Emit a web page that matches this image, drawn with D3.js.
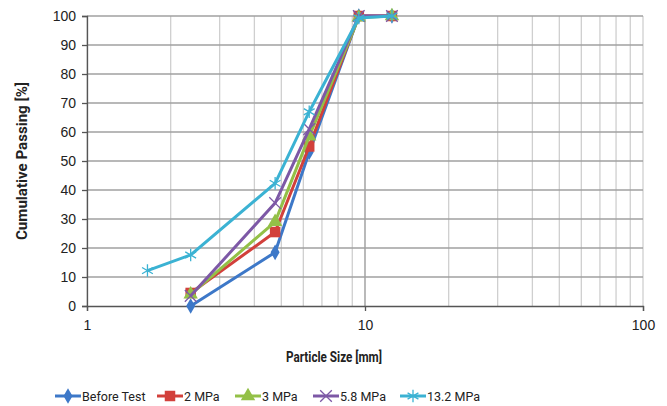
<!DOCTYPE html>
<html>
<head>
<meta charset="utf-8">
<script src="https://cdn.jsdelivr.net/npm/d3@7"></script>
<style>
  body { margin: 0; background: #fff; }
  svg { font-family: Roboto, "Noto Sans", sans-serif; }
</style>
</head>
<body>
<svg width="667" height="406"></svg>
<script>
// sieve sizes (mm) and passing percentages per test
var sizes = [2.36, 4.75, 6.3, 9.5, 12.5];
var sizes132 = [1.65, 2.36, 4.75, 6.3, 9.5, 12.5];
var beforeTest = [0, 18.5, 53, 100, 100];
var mpa2 = [4.5, 25.5, 55, 100, 100];
var mpa3 = [4, 29, 58.5, 99.5, 100];
var mpa58 = [3.5, 35.5, 61, 100, 100];
var mpa132 = [12.2, 17.6, 42.3, 67, 99.3, 100];
var yTicks = [0, 10, 20, 30, 40, 50, 60, 70, 80, 90, 100];
var xTicks = [1, 10, 100];

var series = [
  { name: "Before Test", x: sizes, y: beforeTest, color: "#3d78c8", sym: "diamond" },
  { name: "2 MPa", x: sizes, y: mpa2, color: "#d2403b", sym: "square" },
  { name: "3 MPa", x: sizes, y: mpa3, color: "#93c047", sym: "triangle" },
  { name: "5.8 MPa", x: sizes, y: mpa58, color: "#7d58a6", sym: "x" },
  { name: "13.2 MPa", x: sizes132, y: mpa132, color: "#3bb2d3", sym: "star" }
];

function main() {
    var svg = d3.select("svg");
    var left = 87, right = 643, top = 16, bottom = 306;

    var xScale = d3.scaleLog().domain([1, 100]).range([left, right]);
    var yScale = d3.scaleLinear().domain([0, 100]).range([bottom, top]);

    // minor vertical gridlines
    var minor = [];
    for (var d = 1; d < 100; d *= 10)
        for (var k = 1; k <= 10; k++) minor.push(d * k);
    svg.append("g").selectAll("line").data(minor).join("line")
        .attr("x1", d => xScale(d)).attr("x2", d => xScale(d))
        .attr("y1", top).attr("y2", bottom)
        .attr("stroke", d => (d == 10 ? "#b0b0b0" : "#cfcfcf"))
        .attr("stroke-width", 1.3);

    // horizontal gridlines
    svg.append("g").selectAll("line").data(yTicks.slice(1)).join("line")
        .attr("x1", left).attr("x2", right)
        .attr("y1", d => yScale(d)).attr("y2", d => yScale(d))
        .attr("stroke", "#a0a0a0")
        .attr("stroke-width", 1.3);

    // y axis
    var yAxis = svg.append("g")
        .attr("transform", "translate(" + left + ",0)")
        .call(d3.axisLeft(yScale).tickValues(yTicks).tickSize(5).tickPadding(6));
    // x axis
    var xAxis = svg.append("g")
        .attr("transform", "translate(0," + bottom + ")")
        .call(d3.axisBottom(xScale).tickValues(xTicks).tickFormat(d3.format("d")).tickSize(5).tickPadding(9));
    [yAxis, xAxis].forEach(function (a) {
        a.select(".domain").attr("stroke", "#555").attr("stroke-width", 1.3);
        a.selectAll(".tick line").attr("stroke", "#555").attr("stroke-width", 1.3);
        a.selectAll("text").attr("font-size", 14).attr("fill", "#222");
    });

    var line = d3.line()
        .x(d => xScale(d[0]))
        .y(d => yScale(d[1]));

    var symbols = {
        diamond: d3.symbol().type(d3.symbolDiamond).size(70),
        square: d3.symbol().type(d3.symbolSquare).size(110),
        triangle: d3.symbol().type(d3.symbolTriangle).size(90),
        x: d3.symbol().type(d3.symbolTimes).size(90),
        star: d3.symbol().type(d3.symbolAsterisk).size(110)
    };

    series.forEach(function (s) {
        var pts = s.x.map((v, i) => [v, s.y[i]]);
        svg.append("path")
            .datum(pts)
            .attr("fill", "none")
            .attr("stroke", s.color)
            .attr("stroke-width", 3)
            .attr("stroke-linejoin", "round")
            .attr("d", line);
        var open = (s.sym == "x" || s.sym == "star");
        svg.append("g").selectAll("path").data(pts).join("path")
            .attr("transform", d => "translate(" + xScale(d[0]) + "," + yScale(d[1]) + ")")
            .attr("d", symbols[s.sym])
            .attr("fill", open ? "none" : s.color)
            .attr("stroke", s.color)
            .attr("stroke-width", open ? 1.3 : 0);
    });

    // axis titles
    svg.append("text")
        .attr("x", 286).attr("y", 362)
        .attr("textLength", 96).attr("lengthAdjust", "spacingAndGlyphs")
        .attr("font-size", 14).attr("font-weight", "bold").attr("fill", "#222")
        .text("Particle Size [mm]");
    svg.append("text")
        .attr("transform", "translate(27,240) rotate(-90)")
        .attr("textLength", 158).attr("lengthAdjust", "spacingAndGlyphs")
        .attr("font-size", 14).attr("font-weight", "bold").attr("fill", "#222")
        .text("Cumulative Passing [%]");

    // legend
    var legX = [55, 157, 235, 313, 400];
    var lg = svg.append("g");
    series.forEach(function (s, i) {
        var g = lg.append("g").attr("transform", "translate(" + legX[i] + ",396)");
        g.append("line").attr("x1", 0).attr("x2", 26)
            .attr("stroke", s.color).attr("stroke-width", 3);
        var open = (s.sym == "x" || s.sym == "star");
        g.append("path").attr("transform", "translate(13,0)")
            .attr("d", symbols[s.sym])
            .attr("fill", open ? "none" : s.color)
            .attr("stroke", s.color)
            .attr("stroke-width", open ? 1.3 : 0);
        g.append("text").attr("x", 27).attr("y", 5)
            .attr("font-size", 12.5).attr("fill", "#222")
            .text(s.name);
    });
}
main();
</script>
</body>
</html>
